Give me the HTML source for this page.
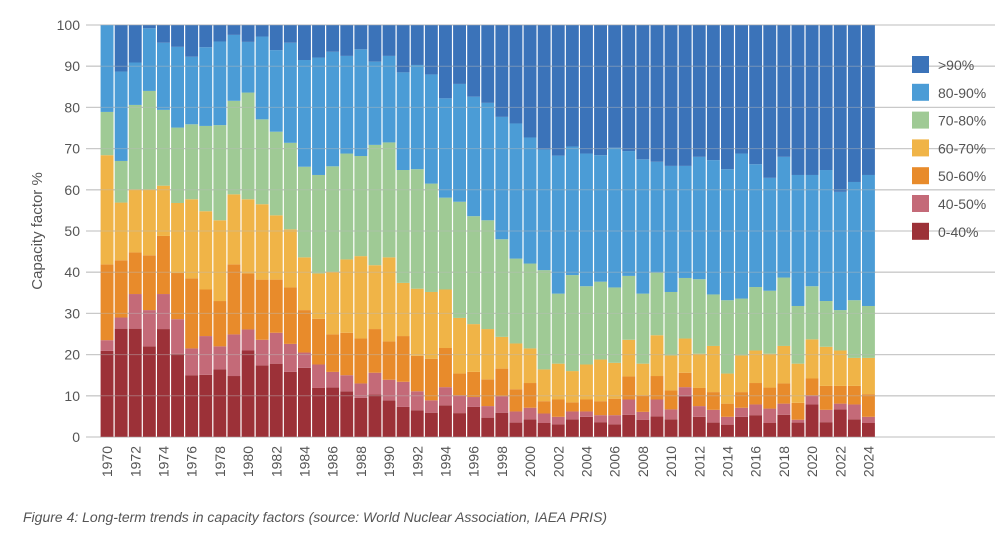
<!DOCTYPE html>
<html><head><meta charset="utf-8">
<style>
html,body{margin:0;padding:0;background:#fff;}
body{width:1002px;height:538px;overflow:hidden;font-family:"Liberation Sans",sans-serif;}
svg text{font-family:"Liberation Sans",sans-serif;}
</style></head>
<body>
<svg id="chart" width="1002" height="538" xmlns="http://www.w3.org/2000/svg"></svg>
<script>
// Data: cumulative upper boundaries (%) of each band, per year
const years = [];
for (let y = 1970; y <= 2024; y++) years.push(y);
const seriesNames = ["0-40%","40-50%","50-60%","60-70%","70-80%","80-90%",">90%"];
const seriesColors = ["#9c3138","#c46a78","#e88b2b","#f0b447","#9fca95","#4b9cd6","#3b73b9"];
const yTicks = [0,10,20,30,40,50,60,70,80,90,100];
const cumTop0_40 = [20.9,26.3,26.3,22,26.2,20.2,15,15.1,16.4,14.8,21,17.4,17.8,15.8,16.8,11.9,12,11.1,9.5,10.3,8.9,7.3,6.5,5.9,7.7,5.8,7.3,4.7,5.9,3.5,4.3,3.4,3.1,4.3,4.9,3.6,3.1,5.4,4.2,5,4.3,9.9,4.9,3.5,3,4.9,5.3,3.4,5.4,3.5,7.9,3.6,6.7,4.3,3.4];
const cumTop40_50 = [23.5,29,34.7,30.8,34.7,28.6,21.5,24.5,22,24.9,26.1,23.6,25.3,22.6,20.5,17.6,15.8,15,13,15.6,13.9,13.4,11.1,8.9,12.1,10.1,9.7,7.5,9.9,6.2,7.1,5.7,4.9,6.2,6.2,5.3,5.3,9.1,6.1,9.1,6.7,12.1,7.5,6.6,4.9,7.1,7.9,6.9,8.1,4.2,10.1,6.6,8.1,7.9,4.9];
const cumTop50_60 = [41.9,42.9,44.8,44.1,48.8,39.8,38.5,35.8,33,41.9,39.7,38.2,38.2,36.3,30.8,28.7,24.9,25.3,23.9,26.2,23.2,24.5,19.7,19,21.6,15.4,15.8,14,16.6,11.6,13.1,8.7,9.1,8.4,9.1,8.7,9.3,14.7,10.1,14.8,11.3,15.6,11.9,10.9,8.1,10.9,13.1,12,13,8.3,14.2,12.4,12.4,12.4,10.4];
const cumTop60_70 = [68.4,56.9,60.1,60.1,61,56.8,57.7,54.8,52.6,58.9,57.7,56.5,53.8,50.4,43.6,39.7,40.1,43.1,43.9,41.7,43.6,37.4,36,35.2,35.8,28.9,27.4,26.2,24.3,22.7,21.5,16.4,17.8,16,17.6,18.8,18,23.6,17.8,24.7,19.8,23.9,20.2,22.1,15.4,19.8,21,20.2,22.1,17.8,23.7,21.9,21,19.2,19.2];
const cumTop70_80 = [78.9,67,80.6,84,79.4,75.1,75.9,75.5,75.7,81.6,83.6,77.1,74.1,71.4,65.6,63.6,65.7,68.8,68.2,70.9,71.5,64.8,65,61.5,58.1,57.1,53.6,52.6,48,43.3,42.1,40.5,34.8,39.3,36.6,37.7,36.3,39.1,34.8,39.9,35.2,38.6,38.3,34.6,33.2,33.6,36.4,35.5,38.7,31.8,36.6,33,30.8,33.2,31.8];
const cumTop80_90 = [100,88.7,90.9,99.2,95.7,94.7,92.3,94.6,96,97.6,95.9,97.2,93.9,95.7,91.5,92.1,93.5,92.5,94.1,91.1,92.5,88.5,90.3,88,82.2,85.7,82.6,81.1,77.7,76.1,72.7,69.8,68.3,70.5,68.8,68.4,70.2,69.4,67.4,66.8,65.8,65.8,68,67.2,65,68.8,66.2,62.9,68,63.6,63.6,64.8,59.5,61.9,63.6];
const cumTops = [cumTop0_40,cumTop40_50,cumTop50_60,cumTop60_70,cumTop70_80,cumTop80_90];

const NS = "http://www.w3.org/2000/svg";
const svg = document.getElementById('chart');
const plotL = 100, plotR = 875.5, plotT = 25, plotB = 437;
const step = (plotR - plotL) / years.length;
function yScale(v){ return plotB - (v/100)*(plotB-plotT); }
function xScale(i){ return plotL + i*step; }
function mk(tag, attrs){ const e=document.createElementNS(NS,tag); for(const k in attrs) e.setAttribute(k,attrs[k]); svg.appendChild(e); return e; }

// gridlines & y labels
yTicks.forEach(t=>{
  const g = mk('line',{x1:86,x2:995,y1:yScale(t),y2:yScale(t),stroke:'#c9c9c9','stroke-width':1.3});
  
  
  const tx = mk('text',{x:80,y:yScale(t)+5,'text-anchor':'end','font-size':14,fill:'#555'});
  tx.textContent = t;
  
  
});

// bars
years.forEach((yr,i)=>{
  let prev = 0;
  for (let s=0; s<7; s++){
    const top = s<6 ? cumTops[s][i] : 100;
    const y0 = yScale(prev), y1 = yScale(Math.max(top,prev));
    const r = mk('rect',{x:xScale(i)+0.6,y:y1,width:step-1.2,height:Math.max(0,y0-y1),fill:seriesColors[s]});
    
    
    prev = Math.max(top,prev);
  }
  if (yr % 2 === 0){
    const cx = xScale(i)+step/2+5;
    const tx = mk('text',{x:cx,y:446,'text-anchor':'end','font-size':14,fill:'#555',transform:`rotate(-90 ${cx} 446)`});
    tx.textContent = yr;
    
    
  }
});

// faint gridlines over bars
yTicks.forEach(t=>{
  const g = mk('line',{x1:plotL,x2:plotR,y1:yScale(t),y2:yScale(t),stroke:'#bbbbbb','stroke-width':1,'stroke-opacity':0.45});
  
  
});

// y axis title
const yt = mk('text',{x:42,y:231,'text-anchor':'middle','font-size':15,fill:'#555',transform:'rotate(-90 42 231)'});
yt.textContent = 'Capacity factor %';



// legend
for (let k=0;k<7;k++){
  const s = 6-k;
  const yy = 56 + k*27.8;
  const sw = mk('rect',{x:912,y:yy,width:17,height:17,fill:seriesColors[s]});
  
  
  const lt = mk('text',{x:938,y:yy+14,'font-size':14,fill:'#555'});
  lt.textContent = seriesNames[s];
  
  
}

// caption
const cap = mk('text',{x:23,y:522,'font-size':14,'font-style':'italic',fill:'#555'});
cap.textContent = 'Figure 4: Long-term trends in capacity factors (source: World Nuclear Association, IAEA PRIS)';


</script>
</body></html>
